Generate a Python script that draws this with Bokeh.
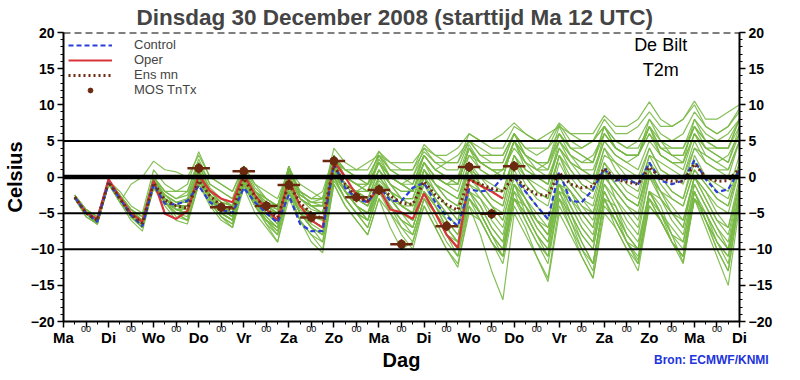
from bokeh.plotting import figure
from bokeh.models import Span, Label, LinearAxis, FixedTicker, Legend, LegendItem, Range1d
from bokeh.embed import file_html
from bokeh.resources import INLINE

# ---------------- data ----------------
hours = list(range(6, 361, 6))  # hours after start (Ma 12 UTC)
tick_hours = list(range(0, 361, 12))
day_hours = list(range(0, 361, 24))
day_names = ["Ma", "Di", "Wo", "Do", "Vr", "Za", "Zo", "Ma", "Di", "Wo", "Do", "Vr", "Za", "Zo", "Ma", "Di"]
half_label = "00"

control = [-2.8, -5.0, -6.2, -0.8, -3.0, -5.3, -6.8, -1.0, -3.7, -3.8, -3.3, -1.2,
           -3.5, -4.5, -5.0, -1.5, -3.5, -5.0, -6.3, -2.5, -6.5, -7.5, -7.5, 1.8,
           -1.5, -3.0, -3.5, -1.2, -3.3, -3.3, -1.5, -0.8, -3.5, -5.4, -6.8, -1.7,
           -2.0, -1.8, 0.0, 0.0, -2.0, -4.0, -5.8, 0.7, -3.3, -3.5, -1.7, 1.1,
           -0.5, -0.3, -1.0, 2.0, -0.5, -1.0, -0.5, 2.3, -0.3, -2.1, -1.7, 1.0]

oper_hours = list(range(6, 235, 6))
oper = [-2.8, -4.9, -5.8, -0.3, -2.8, -5.0, -6.2, -0.5, -5.1, -5.8, -4.7, 0.2,
        -1.9, -3.0, -3.5, 0.4, -2.5, -4.5, -6.0, -0.3, -4.0, -6.0, -7.0, 2.2,
        0.0, -2.5, -3.5, -1.5, -4.5, -4.9, -5.8, -2.3, -5.0, -8.0, -9.8, -0.3,
        -1.2, -2.0, -3.0]

ens_mean = [-2.8, -5.0, -6.0, -0.7, -3.0, -5.2, -6.4, -0.8, -3.2, -4.0, -4.3, -0.5,
            -2.6, -4.0, -4.6, -0.2, -2.7, -4.5, -5.6, -1.0, -3.6, -5.0, -5.8, 1.6,
            -1.0, -2.8, -3.3, -1.3, -2.6, -3.6, -3.8, -0.6, -2.5, -3.8, -4.6, -0.4,
            -1.0, -1.6, -2.0, 0.2, -1.5, -2.4, -2.6, 0.6, -1.0, -1.5, -1.3, 1.2,
            -0.3, -0.7, -1.0, 1.4, -0.2, -0.6, -0.6, 1.8, 0.0, -0.6, -0.5, 1.2]

mos_hours = [72, 84, 96, 108, 120, 132, 144, 156, 168, 180, 204, 216, 228, 240]
mos_values = [1.2, -4.2, 0.8, -4.0, -1.1, -5.6, 2.2, -2.8, -1.8, -9.3, -6.8, 1.4, -5.1, 1.5]

members = [
    [-2.5,-4.5,-5.5,-0.5, -3.5,-1,0,2.2, 1,0.7,0,3, 0,-1,-2,1.5, -1,-2,-3,1, -1,-2,-3,3, 1,0,-1,3.5, 2,1,1,4.5, 3,2,2,6, 5,4,4,7, 6,5,5,7.5, 6,6,6,8.5, 7,7,8,10.4, 8,7,8,10.5, 8,8,9,10],
    [-3,-5,-6,-1, -3,-5,-6.5,-0.5, -2.5,-3.5,-3,1, -2,-3,-4,1, -2,-3,-4,0.5, -2,-4,-5,2, -1,-2,-1,2, 0,-1,0,3, 1,2,3,5, 4,3,3,6, 4,3,4,7.3, 5,4,5,7, 5,4,5,8, 6,5,6,9, 7,6,7,9.5],
    [-2.5,-5,-6.5,-1, -3,-5.5,-7,-1.5, -3.5,-4.5,-5,0, -2.5,-4,-4.5,1, -2,-4,-5,1.5, -3,-4,-4,2, 0,-1,-2,3, 1,0,-1,3, 1,0,0,4.5, 2,1,0,5, 3,2,1,6, 4,3,2,7, 4,3,3,8, 5,3,2,8, 5,4,4,8],
    [-3,-5.5,-6.5,-0.5, -2.5,-5,-6,0, -3,-4,-3,2, -2,-3,-4,0, -3,-5,-6,-1, -4,-5,-5,1, -1,-2,-2,1, -1,-2,-2,2, 0,-1,-2,3, 2,1,1,5, 3,1,0,4, 2,1,0,5, 3,2,3,6, 4,3,3,7, 5,4,4,7],
    [-3,-5,-6,-1, -3,-5.5,-7,-1, -3.5,-5,-5,0.5, -3,-5,-6,-1, -4,-6,-7,-2, -5,-6,-7,1, -2,-4,-5,0, -2,-4,-5,1, -1,-3,-4,2, 0,-1,-2,3, 1,0,-1,4, 1,-1,-2,3, 2,1,0,4, 1,0,-1,4, 2,1,0,5],
    [-3,-5,-6.5,-1, -3.5,-6,-7.5,-1.5, -4,-6,-6.5,-1, -3.5,-5.5,-6.5,-1, -4,-6.5,-8,-2, -6,-8,-9,0, -3,-5,-6,-1, -4,-6,-7,-2, -5,-7,-9,-2, -5,-8,-10,-3, -4,-6,-7,-1, -3,-5,-7,0, -2,-4,-5,1, -2,-3,-4,1, -1,-3,-4,1],
    [-3,-5,-6,-0.5, -3,-5,-6.5,-1, -3,-4.5,-4,0, -3,-4.5,-5.5,-0.5, -3.5,-5.5,-7,-1, -4,-6,-7,1.5, -2,-4,-5,-2, -4,-6,-8,-3, -6,-9,-11,-4, -8,-13,-17,-5, -8,-11,-14,-4, -7,-10,-12,-3, -6,-9,-10,-2, -5,-7,-9,-2, -6,-9,-11,-3],
    [-3,-5,-6,-1, -3,-5,-6.5,-0.5, -3,-4,-4.5,-0.5, -3,-4,-5,-0.5, -3,-5,-6,-1, -4,-5.5,-6,1, -2,-3,-4,-1, -3,-5,-6,-2, -5,-8,-10,-3, -6,-9,-12,-4, -7,-11,-14.5,-5, -8,-11,-14,-5, -7,-10,-12,-4, -6,-9,-11,-3, -7,-11,-15,-4],
    [-3,-5,-6,-1, -3,-5.5,-7,-1.5, -3.5,-5,-6,-1, -4,-6,-7,-1.5, -5,-7,-9,-2, -6,-8,-10,-1, -4,-6,-8,-3, -7,-10,-9,-4, -7,-10,-12.5,-4, -6,-9,-11,-3, -5,-8,-10,-2, -6,-10,-13,-3, -6,-9,-11.5,-3, -5,-8,-10,-2, -6,-9,-12,-3],
    [-2.5,-4.5,-5.5,-0.5, -2.5,-4.5,-6,-0.5, -2.5,-3.5,-3.5,1, -2,-3.5,-4,0.5, -2.5,-4,-5,0, -3,-4,-4,3, 0,-1,-1,2, -1,-3,-4,1, -2,-4,-6,0, -1,-3,-4,2, 0,-2,-3,3, 1,-1,-2,4, 2,0,-1,4, 1,0,0,5, 2,1,1,5],
    [-3,-5,-6,-1, -3,-5,-6.5,-1, -3,-4,-4,0.5, -2.5,-4,-5,0.5, -3,-5,-6.5,-1, -5,-7,-8,0, -3,-5,-6,-1, -3,-5,-6,0, -3,-5,-7,-1, -2,-4,-6,0, -3,-6,-8,-1, -4,-7,-9,-1, -3,-6,-8,0, -3,-6,-8,-1, -4,-7,-10,-2],
    [-3,-5.5,-6.5,-1, -3,-5.5,-7,-0.5, -3,-4.5,-5,0, -3,-5,-6,-1, -4,-6,-7.5,-1.5, -4,-6,-7,1, -1,-3,-4,0, -2,-3,-3,2, 0,-1,-1,4, 2,1,1,5, 2,0,-1,5, 3,1,0,6, 4,3,3,7, 3,2,1,6, 4,3,2,7],
    [-3,-5,-6,-0.5, -2.5,-4.5,-6,0, -2,-2,-1,3.5, 0,-1,-2,1.5, -1,-3,-4,1, -2,-3,-3,2, 1,0,0,3, 0,-1,-2,2, -1,-2,-3,1, -2,-4,-6,0, -3,-5,-7,-1, -2,-4,-5,1, -1,-3,-4,2, 0,-2,-3,2, 0,-1,-2,3],
    [-3,-5,-6,-1, -3,-5,-6.5,-1, -3,-4,-4.5,0, -3,-5,-6,-1, -4,-6.5,-9,-3, -6,-9,-10.5,-1, -4,-6,-8,-3, -5,-7,-8,-3, -5,-8,-9,-3, -5,-8,-10,-2, -4,-7,-9,-1, -5,-9,-12,-3, -4,-8,-10,-2, -4,-8,-11.8,-3, -5,-8,-10,-2],
    [-2.5,-5,-6,-0.5, -2,-4,-5,1, -1,-2,-2,2, -1,-2,-3,1.5, -1.5,-3,-4,1.5, -2,-3,-2,3, 1,1,2,3, 2,2,2,4, 3,3,4,6, 5,5,6,7.5, 6,5,6,7, 6,5,5,8, 6,6,7,9, 7,7,8,10, 7,6,7,9],
    [-3,-5,-6,-1, -3,-5,-7,-1, -3.5,-4.5,-5,-0.5, -3,-5,-6,-0.5, -3,-5,-6,-0.5, -4,-5,-6,2, -1,-3,-4,-1, -3,-5,-6,-1, -4,-6,-8,-2, -4,-7,-9,-1, -3,-6,-8,0, -2,-4,-6,1, -3,-5,-7,0, -2,-5,-6,0, -3,-6,-7,-1],
    [-3,-5,-6,-0.5, -3,-5,-6,-0.5, -3,-4,-4,0.5, -3,-4.5,-5,0, -3,-4.5,-5,0, -3,-4,-4,3, 0,-1,-2,2, 0,-1,-1,3, 1,0,-1,4, 1,0,0,5, 2,1,1,5, 2,0,-1,4, 1,-1,-2,3, 2,1,0,4, 3,2,1,5],
    [-3,-5,-6.5,-1, -3.5,-5.5,-7,-1, -3.5,-5.5,-6,-1, -3.5,-5.5,-6.5,-1, -4,-6,-8,-2, -5,-7,-8,0, -3,-5,-7,-2, -5,-8,-10,-4, -7,-10,-12,-5, -6,-9,-11,-3, -5,-8,-10,-2, -5,-8,-10,-2, -5,-8,-10,-2, -5,-8,-9,-1, -4,-7,-9,-1],
    [-3,-5,-6,-1, -2.5,-4.5,-5.5,0, -2,-3,-2,2.5, -1,-2,-3,1, -2,-3,-4,1, -2,-3,-3,4, 2,1,1,3.6, 1,0,0,4, 2,1,1,5, 3,2,2,6, 3,2,2,7, 4,3,2,7, 4,3,3,7, 5,4,4,8, 6,5,5,8],
    [-3,-5,-6,-1, -3,-5,-6.5,-1, -3,-4.5,-4.5,0, -3,-4.5,-5.5,0, -3.5,-5,-6,-0.5, -4,-5,-5,2, -1,-2,-3,1, -1,-3,-4,0, -2,-4,-5,1, -1,-3,-4,2, -1,-3,-4,2, -1,-3,-4,2, 0,-2,-3,3, 0,-2,-3,3, 0,-2,-3,2],
    [-3,-5,-6,-1, -3,-5.5,-7,-1, -3,-4.5,-5,-0.5, -3,-5,-6,-1, -3.5,-5.5,-7,-1, -5,-7,-8,0, -2,-4,-6,-1, -3,-5,-7,-2, -4,-7,-9,-2, -4,-7,-9,-1, -5,-8,-11,-3, -7,-11,-14,-4, -6,-9,-11,-3, -6,-9,-11,-2, -6,-10,-13,-3],
    [-2.5,-4.5,-6,-0.5, -3,-5,-6,-0.5, -2.5,-3.5,-3.5,1, -2.5,-4,-4.5,0.5, -2.5,-4,-4.5,1.5, -2.5,-3.5,-3,2.5, 1,0,-1,2, 0,-1,-2,2, 0,-1,0,3, 1,0,1,4, 2,1,2,5, 3,2,3,6, 4,3,3,6, 3,2,2,6, 3,2,3,6],
    [-3,-5,-6,-1, -3,-5,-6.5,-1, -3,-4,-4,0, -3,-4.5,-5,0, -3,-5,-6,-1, -4,-6,-7,1, -2,-4,-5,-1, -2,-4,-5,0, -3,-5,-7,-1, -3,-6,-8,-1, -3,-6,-8,-1, -4,-7,-9,-2, -5,-8,-10,-2, -5,-9,-12,-3, -5,-9,-11,-2],
    [-3,-5,-6,-0.5, -3,-5,-6.5,-0.5, -3,-4,-4.5,0, -2.5,-4,-5,1, -2,-4,-5,0, -3,-4,-5,2, -1,-2,-3,0, -2,-4,-4,1, -1,-3,-4,1, 0,-2,-3,3, 0,-2,-3,3, 0,-2,-3,2, -1,-3,-4,2, -1,-3,-4,1, -1,-3,-4,2],
    [-3,-5,-6,-1, -3,-5,-6,0, -2.5,-4,-4,1, -2.5,-3.5,-4,0.5, -2.5,-4,-5,0.5, -3,-4.5,-5,2.5, 0,-1,-2,2.5, 0,-1,-2,3, 1,0,-1,4, 2,1,0,5, 1,0,-1,4, 2,1,1,5, 3,2,1,5, 3,2,2,6, 4,3,2,6],
    [-3,-5,-6.5,-1, -3,-5.5,-7,-1, -3.5,-5,-5.5,-0.5, -3,-5,-6,-0.5, -3.5,-6,-7,-1.5, -5,-6.5,-7.5,0.5, -2,-4,-5,-1, -3,-4,-5,-1, -3,-6,-8,-2, -3,-5,-7,-1, -4,-7,-9,-2, -3,-6,-8,-1, -4,-7,-9,-2, -3,-5,-7,0, -3,-6,-8,-1],
    [-2.5,-4.5,-5.5,-0.5, -2.5,-4.5,-5.5,0, -2,-3,-2.5,1.5, -1.5,-3,-3.5,1, -2,-3.5,-4,1, -2.5,-3.5,-3.5,3, 0,0,0,3, 1,1,1,3.5, 2,2,2,5, 3,3,3,6, 4,4,4,6, 4,4,5,7, 5,4,4,7, 4,4,4,7, 5,5,6,8],
    [-3,-5,-6,-1, -3,-5,-6.5,-1, -3,-4,-4,0.5, -3,-4,-5,0, -3,-5,-6,0, -4,-5,-6,1.5, -1,-2,-3,1, -2,-3,-3,1, -1,-2,-3,2, -1,-2,-2,3, 0,-1,-2,3, -1,-3,-5,1, -1,-3,-4,1, -2,-4,-6,0, -2,-4,-5,1],
    [-3,-5,-6,-1, -3,-5.5,-7,-1, -3.5,-5,-6,-1, -3.5,-5.5,-7,-1, -4,-6,-7.5,-2, -5,-7,-9,-0.5, -3,-5,-7,-2, -4,-7,-9,-3, -5,-8,-11,-3, -5,-8,-10,-2, -6,-9,-12,-3, -5,-8,-10,-2, -5,-9,-12,-3, -6,-9,-11,-2, -5,-8,-10,-2],
    [-3,-5,-6,-1, -3,-5,-6,-0.5, -3,-4,-4,0.5, -2,-3.5,-4,1, -2,-3.5,-4.5,1, -2.5,-3.5,-4,2.5, 0,-1,-1,2, -1,-2,-2,2, 0,-1,-1,4, 2,2,2,6, 3,2,2,6, 3,2,2,6, 4,3,3,7, 4,3,3,7, 4,4,4,8],
    [-3,-5,-6,-1, -3,-5,-6.5,-1, -3,-4.5,-5,0, -3,-4.5,-5.5,-0.5, -3,-5,-6,-0.5, -4,-6,-7,1, -2,-3,-4,-0.5, -2,-4,-5,0, -2,-4,-6,0, -2,-4,-5,1, -2,-4,-6,0, -2,-5,-7,0, -2,-4,-6,1, -3,-5,-7,0, -2,-5,-7,0],
    [-3,-5,-6,-1, -3,-5,-6.5,-1, -3,-4,-4.5,0, -3,-4.5,-5.5,-0.5, -3,-5,-6.5,-1, -4.5,-6,-7,0.5, -2,-4,-6,-2, -4,-6,-7,-2, -4,-7,-9,-3, -5,-8,-11,-3, -6,-9,-11,-3, -6,-9,-12,-3, -7,-10,-13,-4, -6,-9,-11,-3, -6,-10,-13,-3],
]

# ---------------- figure ----------------
FONT = "Liberation Sans"
p = figure(frame_width=676, frame_height=289, x_range=Range1d(0, 360), y_range=Range1d(-20, 20),
           output_backend="svg", toolbar_location=None,
           min_border_left=56, min_border_right=5, min_border_top=25, min_border_bottom=5,
           title="Dinsdag 30 December 2008 (starttijd Ma 12 UTC)")
p.title.align = "left"
p.title.offset = 73
p.title.text_font = FONT
p.title.text_font_size = "22.5px"
p.title.text_font_style = "bold"
p.title.standoff = 5
p.outline_line_color = None
p.grid.visible = False
p.background_fill_color = "white"
p.border_fill_color = "white"

# reference lines
for loc, w in [(5, 2), (-5, 2), (-10, 2), (0, 4.5)]:
    p.add_layout(Span(location=loc, dimension="width", line_color="black", line_width=w))
p.add_layout(Span(location=20, dimension="width", line_color="black", line_width=2, line_dash="7 4"))

# ensemble members
p.multi_line(xs=[hours] * len(members), ys=members, line_color="#78b845", line_width=1.2, line_alpha=0.9)

r_oper = p.line(oper_hours, oper, line_color="#d9343a", line_width=2.2)
r_ctrl = p.line(hours, control, line_color="#2b3fd6", line_width=2.2, line_dash="5 3")
r_mean = p.line(hours, ens_mean, line_color="#6e2a12", line_width=3, line_dash="2 3")

mos_color = "#6b2a10"
p.segment(x0=[h - 6 for h in mos_hours], y0=mos_values, x1=[h + 6 for h in mos_hours], y1=mos_values,
          line_color=mos_color, line_width=2.5)
p.segment(x0=mos_hours, y0=[v - 0.7 for v in mos_values], x1=mos_hours, y1=[v + 0.7 for v in mos_values],
          line_color=mos_color, line_width=2)
r_mos = p.scatter(mos_hours, mos_values, size=8, fill_color=mos_color, line_color=mos_color)

# ---------------- axes ----------------
yt = FixedTicker(ticks=list(range(-20, 21, 5)), minor_ticks=list(range(-20, 21, 1)))
p.yaxis.ticker = yt
p.add_layout(LinearAxis(ticker=yt), "right")

for ax in p.yaxis:
    ax.axis_line_width = 2
    ax.major_tick_line_width = 1.5
    ax.major_tick_in = 0
    ax.major_tick_out = 6
    ax.minor_tick_in = 0
    ax.minor_tick_out = 3
    ax.major_label_text_font = FONT
    ax.major_label_text_font_style = "bold"
    ax.major_label_text_font_size = "14px"
    ax.major_label_text_color = "black"
    ax.major_label_standoff = 3
p.yaxis[0].axis_label = "Celsius"
p.yaxis[0].axis_label_text_font = FONT
p.yaxis[0].axis_label_text_font_style = "bold"
p.yaxis[0].axis_label_text_font_size = "20px"
p.yaxis[0].axis_label_text_color = "black"
p.yaxis[0].axis_label_standoff = 2

# x axis A: ticks and the small "00" marks
xa = p.xaxis[0]
xa.ticker = FixedTicker(ticks=tick_hours, minor_ticks=hours)
xa.major_label_overrides = {h: ("" if h % 24 == 0 else half_label) for h in tick_hours}
xa.axis_line_width = 2
xa.major_tick_line_width = 1.5
xa.major_tick_in = 0
xa.major_tick_out = 6
xa.minor_tick_in = 0
xa.minor_tick_out = 3
xa.major_label_text_font = FONT
xa.major_label_text_font_size = "9px"
xa.major_label_text_color = "black"
xa.major_label_standoff = -2

# x axis B: day names
xb = LinearAxis(ticker=FixedTicker(ticks=day_hours, minor_ticks=[]),
                major_label_overrides={h: day_names[i] for i, h in enumerate(day_hours)})
xb.axis_line_color = None
xb.major_tick_line_color = None
xb.minor_tick_line_color = None
xb.major_tick_out = 0
xb.major_tick_in = 0
xb.minor_tick_out = 0
xb.major_label_text_font = FONT
xb.major_label_text_font_style = "bold"
xb.major_label_text_font_size = "15px"
xb.major_label_text_color = "black"
xb.major_label_standoff = -6
p.add_layout(xb, "below")

# x axis C: axis title and source note
xc = LinearAxis(ticker=FixedTicker(ticks=[345], minor_ticks=[]),
                major_label_overrides={345: "Bron: ECMWF/KNMI"}, axis_label="Dag")
xc.axis_line_color = None
xc.major_tick_line_color = None
xc.minor_tick_line_color = None
xc.major_tick_out = 0
xc.major_tick_in = 0
xc.minor_tick_out = 0
xc.major_label_text_font = FONT
xc.major_label_text_font_style = "bold"
xc.major_label_text_font_size = "12px"
xc.major_label_text_color = "#2233dd"
xc.major_label_standoff = 4
xc.axis_label_text_font = FONT
xc.axis_label_text_font_style = "bold"
xc.axis_label_text_font_size = "20px"
xc.axis_label_text_color = "black"
xc.axis_label_standoff = -21
p.add_layout(xc, "below")

# station text
p.add_layout(Label(x=318, y=18.3, text="De Bilt", text_font=FONT, text_font_size="18px",
                   text_align="center", text_baseline="middle", text_color="black"))
p.add_layout(Label(x=318, y=14.8, text="T2m", text_font=FONT, text_font_size="18px",
                   text_align="center", text_baseline="middle", text_color="black"))

legend = Legend(items=[LegendItem(label="Control", renderers=[r_ctrl]),
                       LegendItem(label="Oper", renderers=[r_oper]),
                       LegendItem(label="Ens mn", renderers=[r_mean]),
                       LegendItem(label="MOS TnTx", renderers=[r_mos])],
                location="top_left", background_fill_alpha=0, border_line_alpha=0,
                label_text_font=FONT, label_text_font_size="13px", glyph_width=44, glyph_height=12,
                label_height=13, label_standoff=22, spacing=0, padding=0, margin=5)
p.add_layout(legend)

open("out.html", "w").write(file_html(p, INLINE))
